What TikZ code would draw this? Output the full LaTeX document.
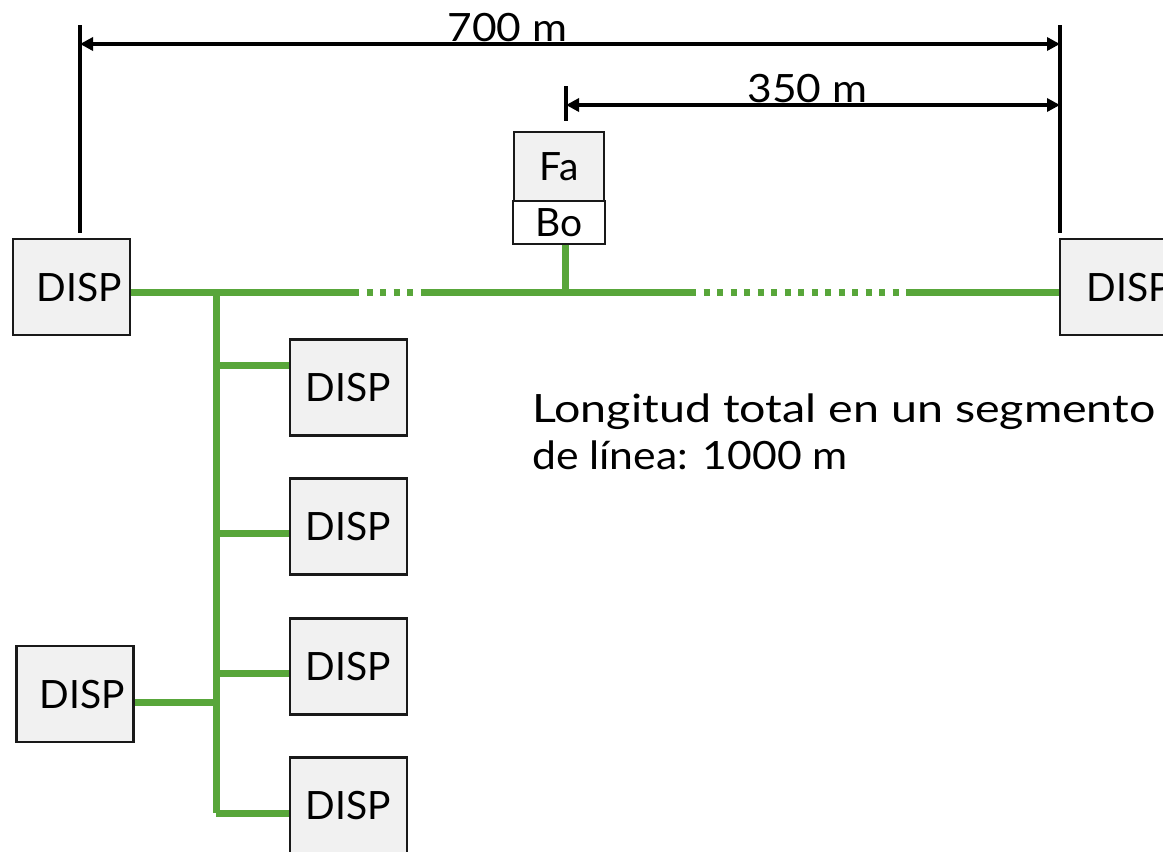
\documentclass[tikz,border=0pt]{standalone}
\usepackage{fontspec}
\setmainfont{Lato}
\usetikzlibrary{arrows.meta}
\definecolor{busgreen}{RGB}{88,166,58}
\definecolor{boxfill}{RGB}{241,241,241}
\definecolor{boxline}{RGB}{25,25,25}
\begin{document}
\begin{tikzpicture}[x=1pt,y=-1pt,
  every node/.style={font=\fontsize{39}{47}\selectfont, inner sep=0pt},
  disp/.style={draw=boxline, line width=2.5pt, fill=boxfill, minimum width=117pt, minimum height=96pt, text height=28pt, text depth=0pt},
  dispL/.style={disp, execute at begin node={\hspace*{15pt}}},
  dispR/.style={disp, execute at begin node={\hspace*{21pt}}},
  smallbox/.style={draw=boxline, line width=2.5pt, text height=28pt, text depth=0pt},
  bus/.style={busgreen, line width=7pt},
  busdot/.style={busgreen, line width=7pt, dash pattern=on 6pt off 7.5pt},
  dimbar/.style={black, line width=4pt},
  dimarrow/.style={black, line width=3.4pt, {Triangle[length=13pt,width=13pt]}-{Triangle[length=13pt,width=13pt]}},
  lbl/.style={anchor=base}
]
\useasboundingbox (0,0) rectangle (1163,852);

% boxes
\node[dispL] (dL) at (71.5,287) {DISP};
\node[dispR] (dR) at (1118.5,287) {DISP};
\node[disp] (d1) at (348.5,387.5) {DISP};
\node[disp] (d2) at (348.5,526.5) {DISP};
\node[disp] (d3) at (348.5,666.5) {DISP};
\node[disp] (d4) at (348.5,805.5) {DISP};
\node[dispL] (d5) at (75,694) {DISP};
\node[smallbox, fill=boxfill, minimum width=90pt, minimum height=69pt] (fa) at (559,166.5) {Fa};
\node[smallbox, fill=white, minimum width=92pt, minimum height=43pt] (bo) at (559,222.5) {Bo};

% dimension bars
\coordinate (lbT) at (80,25);
\coordinate (lbB) at (80,233);
\coordinate (rbT) at (1060,25);
\coordinate (rbB) at (1060,233);
\coordinate (tkT) at (566,86);
\coordinate (tkB) at (566,121);
\draw[dimbar] (lbT) -- (lbB);
\draw[dimbar] (rbT) -- (rbB);
\draw[dimbar] (tkT) -- (tkB);
\coordinate (a1) at (80,44);
\coordinate (a2) at (1060,44);
\coordinate (b1) at (566,105);
\coordinate (b2) at (1060,105);
\draw[dimarrow] (a1) -- (a2);
\draw[dimarrow] (b1) -- (b2);
\node[lbl] (t700) at (507.5,41) {\scalebox{1.09}[1]{700 m}};
\node[lbl] (t350) at (807.5,102) {\scalebox{1.09}[1]{350 m}};

% bus
\coordinate (jL) at (216,292);
\coordinate (s1) at (353,292);
\coordinate (s2) at (425,292);
\coordinate (jB) at (565,292);
\coordinate (s3) at (690,292);
\coordinate (s4) at (912,292);
\coordinate (jBot) at (216,813);
\draw[bus] (dL.east |- jL) -- (s1);
\draw[busdot] (s1) -- (s2);
\draw[bus] (s2) -- (s3);
\draw[busdot] (s3) -- (s4);
\draw[bus] (s4) -- (dR.west |- s4);
\draw[bus] (bo.south -| jB) -- (jB);
\draw[bus] (jL) -- (jBot);
\coordinate (j1) at (216,365);
\coordinate (j2) at (216,533);
\coordinate (j3) at (216,673);
\coordinate (j5) at (216,702);
\draw[bus] (j1) -- (j1 -| d1.west);
\draw[bus] (j2) -- (j2 -| d2.west);
\draw[bus] (j3) -- (j3 -| d3.west);
\draw[bus] (jBot) -- (jBot -| d4.west);
\draw[bus] (j5) -- (j5 -| d5.east);

% note
\node[anchor=base west] (note) at (532,422) {\scalebox{1.195}[1]{Longitud total en un segmento}};
\node[anchor=base west] (note2) at (532,469) {\scalebox{1.095}[1]{de línea: 1000 m}};
\end{tikzpicture}
\end{document}
